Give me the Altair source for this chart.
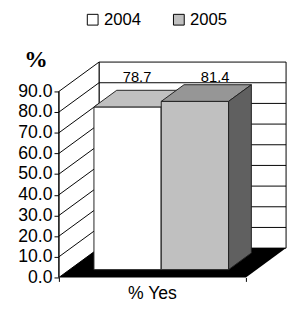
import altair as alt
import pandas as pd

# ---- data ----
categories = ["% Yes"]
years = ["2004", "2005"]
values = [78.7, 81.4]
y_ticks = [0, 10, 20, 30, 40, 50, 60, 70, 80, 90]

# ---- styles ----
FRONT = ["#FFFFFF", "#C0C0C0"]
TOP = ["#C0C0C0", "#969696"]
SIDE = ["#808080", "#606060"]
EDGE = "#222222"
FONT = "Liberation Sans"

DX = 0.2147      # depth of the box in x units (front width = 1)
DY = 14.2        # depth of the box in value units
Y_MAX = y_ticks[-1]
D0 = 0.267       # bar starts at this depth fraction
DD = 0.567       # bar depth fraction
BAR_START = 0.13
BAR_W = 0.36
LABEL_DX = [-2, 9]

xs = alt.Scale(domain=[0, 1 + DX], nice=False, zero=False)
ys = alt.Scale(domain=[0, Y_MAX + DY], nice=False, zero=False)
color_scale = alt.Scale(domain=years, range=FRONT)

x_axis = alt.Axis(values=[0, 1], labels=False, domain=False, grid=False,
                  tickColor="black", tickSize=4, title=None)
y_axis = alt.Axis(values=y_ticks, format=".1f", domain=False, grid=False,
                  tickColor="black", tickSize=5, labelFontSize=18, labelFont=FONT,
                  labelColor="black", labelPadding=2,
                  title="%", titleAngle=0, titleX=-24, titleY=-2,
                  titleFont="Liberation Serif", titleFontSize=24, titleFontWeight="bold",
                  titleAlign="center", titleBaseline="middle", titleColor="black")


def X(field="x"):
    return alt.X(f"{field}:Q", scale=xs, axis=x_axis)


def Y(field="y"):
    return alt.Y(f"{field}:Q", scale=ys, axis=y_axis)


layers = []

# back wall
back = pd.DataFrame({"x": [DX], "x2": [1 + DX], "y": [DY], "y2": [Y_MAX + DY]})
layers.append(alt.Chart(back).mark_rect(fill="white", stroke="black", strokeWidth=1).encode(
    x=X(), x2="x2", y=Y(), y2="y2"))

# back wall gridlines
grid = pd.DataFrame({"x": [DX] * (len(y_ticks) - 2), "x2": [1 + DX] * (len(y_ticks) - 2),
                     "y": [v + DY for v in y_ticks[1:-1]]})
layers.append(alt.Chart(grid).mark_rule(color="black", strokeWidth=1).encode(
    x=X(), x2="x2", y=Y()))

# left wall
left = pd.DataFrame({"x": [0, DX], "y": [0, DY], "y2": [Y_MAX, Y_MAX + DY]})
layers.append(alt.Chart(left).mark_area(fill="white", stroke="black", strokeWidth=1,
                                        orient="vertical").encode(x=X(), y=Y(), y2="y2"))

# left wall diagonals
diag = pd.DataFrame({"x": [0] * (len(y_ticks) - 2), "x2": [DX] * (len(y_ticks) - 2),
                     "y": y_ticks[1:-1], "y2": [v + DY for v in y_ticks[1:-1]]})
layers.append(alt.Chart(diag).mark_rule(color="black", strokeWidth=1).encode(
    x=X(), x2="x2", y=Y(), y2="y2"))

# floor
floor = pd.DataFrame({"y": [0, DY], "x": [0, DX], "x2": [1, 1 + DX]})
layers.append(alt.Chart(floor).mark_area(color="black", orient="horizontal").encode(
    y=Y(), x=X(), x2="x2"))

# y axis line
axis_line = pd.DataFrame({"x": [0], "y": [0], "y2": [Y_MAX]})
layers.append(alt.Chart(axis_line).mark_rule(color="black").encode(x=X(), y=Y(), y2="y2"))

# bars
bx0, by0 = D0 * DX, D0 * DY
bx1, by1 = (D0 + DD) * DX, (D0 + DD) * DY
for i, (yr, v) in enumerate(zip(years, values)):
    xl = BAR_START + i * BAR_W
    xr = xl + BAR_W
    front = pd.DataFrame({"x": [xl + bx0], "x2": [xr + bx0], "y": [by0], "y2": [v + by0],
                          "year": [yr]})
    layers.append(alt.Chart(front).mark_rect(stroke=EDGE, strokeWidth=1).encode(
        x=X(), x2="x2", y=Y(), y2="y2",
        color=alt.Color("year:N", scale=color_scale,
                        legend=alt.Legend(orient="none", legendX=26, legendY=-52,
                                          direction="horizontal", columns=2, title=None,
                                          symbolType="square", symbolSize=121,
                                          symbolStrokeColor="black", symbolStrokeWidth=1,
                                          labelFontSize=17, labelFont=FONT, labelColor="black",
                                          labelOffset=3, columnPadding=30, padding=0))))
    top = pd.DataFrame({"y": [v + by0, v + by1], "x": [xl + bx0, xl + bx1],
                        "x2": [xr + bx0, xr + bx1]})
    layers.append(alt.Chart(top).mark_area(fill=TOP[i], stroke=EDGE, strokeWidth=1,
                                           orient="horizontal").encode(y=Y(), x=X(), x2="x2"))
    side = pd.DataFrame({"x": [xr + bx0, xr + bx1], "y": [by0, by1],
                         "y2": [v + by0, v + by1]})
    layers.append(alt.Chart(side).mark_area(fill=SIDE[i], stroke=EDGE, strokeWidth=1,
                                            orient="vertical").encode(x=X(), y=Y(), y2="y2"))
    lab = pd.DataFrame({"x": [(xl + xr) / 2 + (D0 + DD / 2) * DX], "y": [Y_MAX + DY / 2],
                        "v": [v]})
    layers.append(alt.Chart(lab).mark_text(fontSize=15, font=FONT, color="black",
                                           dx=LABEL_DX[i], baseline="middle").encode(
        x=X(), y=Y(), text=alt.Text("v:Q", format=".1f")))

# category label
cat = pd.DataFrame({"x": [0.5], "y": [0], "c": categories})
layers.append(alt.Chart(cat).mark_text(fontSize=18, font=FONT, color="black", dy=17,
                                       baseline="middle").encode(x=X(), y=Y(), text="c:N"))

chart = alt.layer(*layers).properties(
    width=232, height=220, autosize="none",
    padding={"left": 52, "top": 52, "right": 3, "bottom": 30},
).configure_view(stroke=None)

chart.save("out.html", embed_options={"renderer": "svg", "actions": False})
